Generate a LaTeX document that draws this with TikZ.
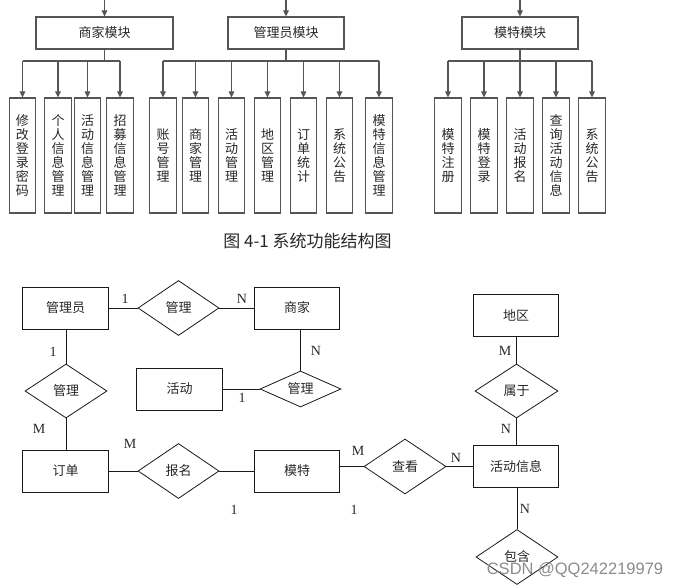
\documentclass[tikz,border=0pt]{standalone}
\usepackage{fontspec}
\setmainfont{Liberation Serif}
\newfontfamily\cjk{Noto Sans CJK SC}
\newfontfamily\wmfont{Liberation Sans}
\usetikzlibrary{arrows.meta,shapes.geometric}
\definecolor{linegray}{RGB}{85,85,85}
\definecolor{txt}{RGB}{40,40,40}
\begin{document}
\begin{tikzpicture}[x=1pt,y=-1pt,
  modbox/.style={draw=linegray, line width=1.1pt, minimum width=116pt, minimum height=32pt, inner sep=0pt, font=\cjk\fontsize{13}{14}\selectfont, text=txt},
  subbox/.style={draw=linegray, line width=1.1pt, minimum width=26.5pt, minimum height=115pt, inner sep=0pt, align=center, font=\cjk\fontsize{13}{14}\selectfont, text=txt},
  tline/.style={draw=linegray, line width=1.1pt},
  tarr/.style={draw=linegray, line width=1.1pt, -{Triangle[length=6pt,width=5.5pt]}},
  ent/.style={draw=black!90, line width=0.8pt, minimum width=85.5pt, minimum height=42pt, inner sep=0pt, font=\cjk\fontsize{13}{14}\selectfont, text=txt},
  rel/.style={draw=black!90, line width=0.8pt, diamond, aspect=1.5, minimum width=81pt, minimum height=55pt, inner sep=0pt, font=\cjk\fontsize{13}{14}\selectfont, text=txt},
  eline/.style={draw=black!90, line width=0.8pt},
  card/.style={font=\fontsize{14}{14}\selectfont, text=txt, inner sep=0pt}
]
\useasboundingbox (0,0) rectangle (677,588);
\fill[white] (0,0) rectangle (677,588);

% ---------- module structure ----------
\node[modbox, minimum width=137pt] (m1) at (104.5,33) {商家模块};
\node[modbox] (m2) at (286,33) {管理员模块};
\node[modbox] (m3) at (520,33) {模特模块};
\coordinate (t1) at (104.5,0);
\coordinate (t2) at (286,0);
\coordinate (t3) at (520,0);
\draw[tarr] (t1) -- (m1.north);
\draw[tarr] (t2) -- (m2.north);
\draw[tarr] (t3) -- (m3.north);

\node[subbox] (a1) at (22.5,155.5) {修\\改\\登\\录\\密\\码};
\node[subbox] (a2) at (58,155.5) {个\\人\\信\\息\\管\\理};
\node[subbox] (a3) at (87.5,155.5) {活\\动\\信\\息\\管\\理};
\node[subbox] (a4) at (120,155.5) {招\\募\\信\\息\\管\\理};

\node[subbox] (b1) at (163,155.5) {账\\号\\管\\理};
\node[subbox] (b2) at (195.5,155.5) {商\\家\\管\\理};
\node[subbox] (b3) at (231.5,155.5) {活\\动\\管\\理};
\node[subbox] (b4) at (267.5,155.5) {地\\区\\管\\理};
\node[subbox] (b5) at (303.5,155.5) {订\\单\\统\\计};
\node[subbox] (b6) at (339.5,155.5) {系\\统\\公\\告};
\node[subbox] (b7) at (379,155.5) {模\\特\\信\\息\\管\\理};

\node[subbox] (c1) at (448,155.5) {模\\特\\注\\册};
\node[subbox] (c2) at (484,155.5) {模\\特\\登\\录};
\node[subbox] (c3) at (520,155.5) {活\\动\\报\\名};
\node[subbox] (c4) at (556,155.5) {查\\询\\活\\动\\信\\息};
\node[subbox] (c5) at (592,155.5) {系\\统\\公\\告};

\coordinate (j1) at (104.5,61);
\coordinate (j2) at (286,61);
\coordinate (j3) at (520,61);
\draw[tline] (m1.south) -- (j1);
\draw[tline] (m2.south) -- (j2);
\draw[tline] (m3.south) -- (j3);
\draw[tline] (a1.north |- j1) -- (a4.north |- j1);
\draw[tline] (b1.north |- j2) -- (b7.north |- j2);
\draw[tline] (c1.north |- j3) -- (c5.north |- j3);
\foreach \n in {a1,a2,a3,a4}{\draw[tarr] (\n.north |- j1) -- (\n.north);}
\foreach \n in {b1,b2,b3,b4,b5,b6,b7}{\draw[tarr] (\n.north |- j2) -- (\n.north);}
\foreach \n in {c1,c2,c3,c4,c5}{\draw[tarr] (\n.north |- j3) -- (\n.north);}

\node[font=\cjk\fontsize{17}{17}\selectfont, text=txt, inner sep=0pt] (cap) at (307.5,241) {图 4-1 系统功能结构图};

% ---------- E-R diagram ----------
\node[ent] (gly) at (65.5,308) {管理员};
\node[ent] (sj) at (297,308) {商家};
\node[ent] (hd) at (179.5,389) {活动};
\node[ent] (dd) at (65.5,471) {订单};
\node[ent] (mt) at (297,471) {模特};
\node[ent] (dq) at (516,315.5) {地区};
\node[ent] (hdxx) at (516,466.5) {活动信息};

\node[rel] (r1) at (178.5,308) {管理};
\node[rel, minimum width=82pt, minimum height=54pt] (r2) at (66,391) {管理};
\node[rel, aspect=2.2, minimum width=81pt, minimum height=36pt] (r3) at (300.5,389) {管理};
\node[rel] (r4) at (178.5,471) {报名};
\node[rel, minimum width=82pt] (r5) at (405,466.5) {查看};
\node[rel, minimum width=83pt, minimum height=54pt] (r6) at (516.5,391) {属于};
\node[rel, minimum width=82pt] (r7) at (517,557) {包含};

\draw[eline] (gly.east) -- (r1.west);
\draw[eline] (r1.east) -- (sj.west);
\draw[eline] (gly.south -| r2.north) -- (r2.north);
\draw[eline] (r2.south) -- (dd.north -| r2.south);
\draw[eline] (r3.north |- sj.south) -- (r3.north);
\draw[eline] (hd.east) -- (r3.west);
\draw[eline] (dd.east) -- (r4.west);
\draw[eline] (r4.east) -- (mt.west);
\draw[eline] (mt.east |- r5.west) -- (r5.west);
\draw[eline] (r5.east) -- (hdxx.west);
\draw[eline] (dq.south -| r6.north) -- (r6.north);
\draw[eline] (r6.south) -- (hdxx.north -| r6.south);
\draw[eline] (hdxx.south -| r7.north) -- (r7.north);

\node[card] (l1) at (125,299) {1};
\node[card] (l2) at (242,299) {N};
\node[card] (l3) at (53,352) {1};
\node[card] (l4) at (39,429) {M};
\node[card] (l5) at (316,351) {N};
\node[card] (l6) at (242,398) {1};
\node[card] (l7) at (130,444) {M};
\node[card] (l8) at (234,510) {1};
\node[card] (l9) at (354,510) {1};
\node[card] (l10) at (358,451) {M};
\node[card] (l11) at (456,458) {N};
\node[card] (l12) at (505,351) {M};
\node[card] (l13) at (506,429) {N};
\node[card] (l14) at (525,509) {N};

\node[font=\wmfont\fontsize{16.5}{16.5}\selectfont, text=black!45, inner sep=0pt] (wm) at (575,570) {CSDN @QQ242219979};
\end{tikzpicture}
\end{document}
